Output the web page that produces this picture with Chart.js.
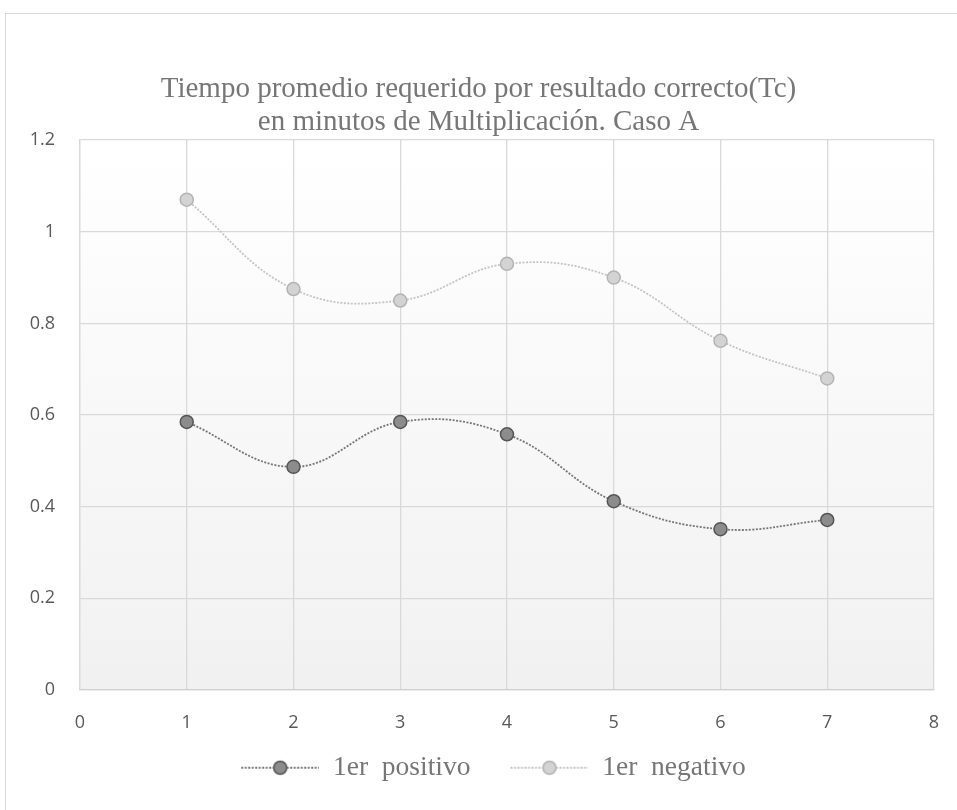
<!DOCTYPE html>
<html lang="es">
<head>
  <meta charset="UTF-8" />
  <title>Tiempo promedio requerido por resultado correcto (Tc)</title>
  <script src="https://cdn.jsdelivr.net/npm/chart.js"></script>
  <style>
    body {
      margin: 0;
      background: #ffffff;
    }
    #wrap {
      width: 957px;
      height: 810px;
    }
  </style>
</head>
<body>
  <div id="wrap">
    <canvas id="tcChart" width="957" height="810"></canvas>
  </div>

  <script>
    // datos
    const ensayos = [1, 2, 3, 4, 5, 6, 7];
    const positivo = [0.585, 0.487, 0.585, 0.558, 0.412, 0.351, 0.371];
    const negativo = [1.07, 0.875, 0.85, 0.93, 0.9, 0.762, 0.68];
    const xTicks = [0, 1, 2, 3, 4, 5, 6, 7, 8];
    const yTicks = [0, 0.2, 0.4, 0.6, 0.8, 1, 1.2];
    const yLabels = ['0', '0.2', '0.4', '0.6', '0.8', '1', '1.2'];

    const grisGrid = '#d9d9d9';
    const grisTexto = '#595959';
    const serif = '"Liberation Serif", "Times New Roman", serif';
    const sans = '"Open Sans", sans-serif';

    // marcador de leyenda: hueco transparente a la izquierda + línea punteada + círculo
    const MARCA_W = 108;
    function legendMarker(lineColor, fill, stroke) {
      const c = document.createElement('canvas');
      c.width = MARCA_W;
      c.height = 18;
      const g = c.getContext('2d');
      const x0 = MARCA_W - 78;
      g.strokeStyle = lineColor;
      g.lineWidth = 1.8;
      g.setLineDash([2, 1.5]);
      g.beginPath();
      g.moveTo(x0, 9);
      g.lineTo(MARCA_W, 9);
      g.stroke();
      g.setLineDash([]);
      g.beginPath();
      g.arc(x0 + 39, 9, 6.5, 0, Math.PI * 2);
      g.fillStyle = fill;
      g.fill();
      g.lineWidth = 1.5;
      g.strokeStyle = stroke;
      g.stroke();
      return c;
    }

    // fondo del área de trazado con degradado + marco exterior
    const fondo = {
      id: 'fondo',
      beforeDraw(chart) {
        const { ctx, chartArea: a } = chart;
        ctx.save();
        ctx.fillStyle = '#ffffff';
        ctx.fillRect(0, 0, chart.width, chart.height);
        const grad = ctx.createLinearGradient(0, a.top, 0, a.bottom);
        grad.addColorStop(0, '#ffffff');
        grad.addColorStop(1, '#f1f1f1');
        ctx.fillStyle = grad;
        ctx.fillRect(a.left, a.top, a.right - a.left, a.bottom - a.top);
        ctx.strokeStyle = '#d9d9d9';
        ctx.lineWidth = 1;
        ctx.strokeRect(5.5, 13.5, chart.width, chart.height);
        ctx.restore();
      }
    };

    const datos = (arr) => ensayos.map((x, i) => ({ x, y: arr[i] }));

    new Chart(document.getElementById('tcChart'), {
      type: 'line',
      data: {
        datasets: [
          {
            label: '1er  positivo',
            data: datos(positivo),
            borderColor: '#767676',
            borderWidth: 1.8,
            borderDash: [2, 1.5],
            tension: 0.4,
            pointRadius: 6.5,
            pointBorderWidth: 1.5,
            pointBackgroundColor: '#8c8c8c',
            pointBorderColor: '#555555',
            pointStyle: 'circle'
          },
          {
            label: '1er  negativo',
            data: datos(negativo),
            borderColor: '#c4c4c4',
            borderWidth: 1.8,
            borderDash: [2, 1.5],
            tension: 0.4,
            pointRadius: 6.5,
            pointBorderWidth: 1.5,
            pointBackgroundColor: '#d3d3d3',
            pointBorderColor: '#b3b3b3',
            pointStyle: 'circle'
          }
        ]
      },
      options: {
        responsive: false,
        animation: false,
        layout: {
          padding: { left: 23, right: 23, top: 0, bottom: 18.5 }
        },
        scales: {
          x: {
            type: 'linear',
            min: 0,
            max: 8,
            afterBuildTicks: (s) => { s.ticks = xTicks.map(v => ({ value: v })); },
            afterFit: (s) => { s.height = 54; s.paddingLeft = 0; s.paddingRight = 0; },
            grid: { color: grisGrid, lineWidth: 1.3, drawTicks: false },
            border: { color: '#d0d0d0', width: 1.3 },
            ticks: {
              color: grisTexto,
              padding: 22,
              font: { family: sans, size: 18 }
            }
          },
          y: {
            min: 0,
            max: 1.2,
            afterBuildTicks: (s) => { s.ticks = yTicks.map(v => ({ value: v })); },
            afterFit: (s) => { s.width = 57; },
            grid: { color: grisGrid, lineWidth: 1.3, drawTicks: false },
            border: { color: grisGrid, width: 1.3 },
            ticks: {
              color: grisTexto,
              padding: 25,
              font: { family: sans, size: 18 },
              callback: (v) => yLabels[yTicks.indexOf(v)] ?? String(v)
            }
          }
        },
        plugins: {
          title: {
            display: true,
            text: ['Tiempo promedio requerido por resultado correcto(Tc)', 'en minutos de Multiplicación. Caso A'],
            color: '#767676',
            font: { family: serif, size: 29, weight: 'normal', lineHeight: 1.14 },
            padding: { top: 73, bottom: 1 }
          },
          legend: {
            position: 'bottom',
            labels: {
              usePointStyle: true,
              pointStyleWidth: MARCA_W,
              boxHeight: 18,
              padding: 10,
              color: '#767676',
              font: { family: serif, size: 27.5 },
              generateLabels: (chart) => [
                {
                  text: chart.data.datasets[0].label,
                  pointStyle: legendMarker('#767676', '#8c8c8c', '#555555'),
                  datasetIndex: 0,
                  fontColor: '#767676',
                  lineWidth: 0
                },
                {
                  text: chart.data.datasets[1].label,
                  pointStyle: legendMarker('#c4c4c4', '#d3d3d3', '#b3b3b3'),
                  datasetIndex: 1,
                  fontColor: '#767676',
                  lineWidth: 0
                }
              ]
            }
          },
          tooltip: { enabled: false }
        }
      },
      plugins: [fondo]
    });
  </script>
</body>
</html>
